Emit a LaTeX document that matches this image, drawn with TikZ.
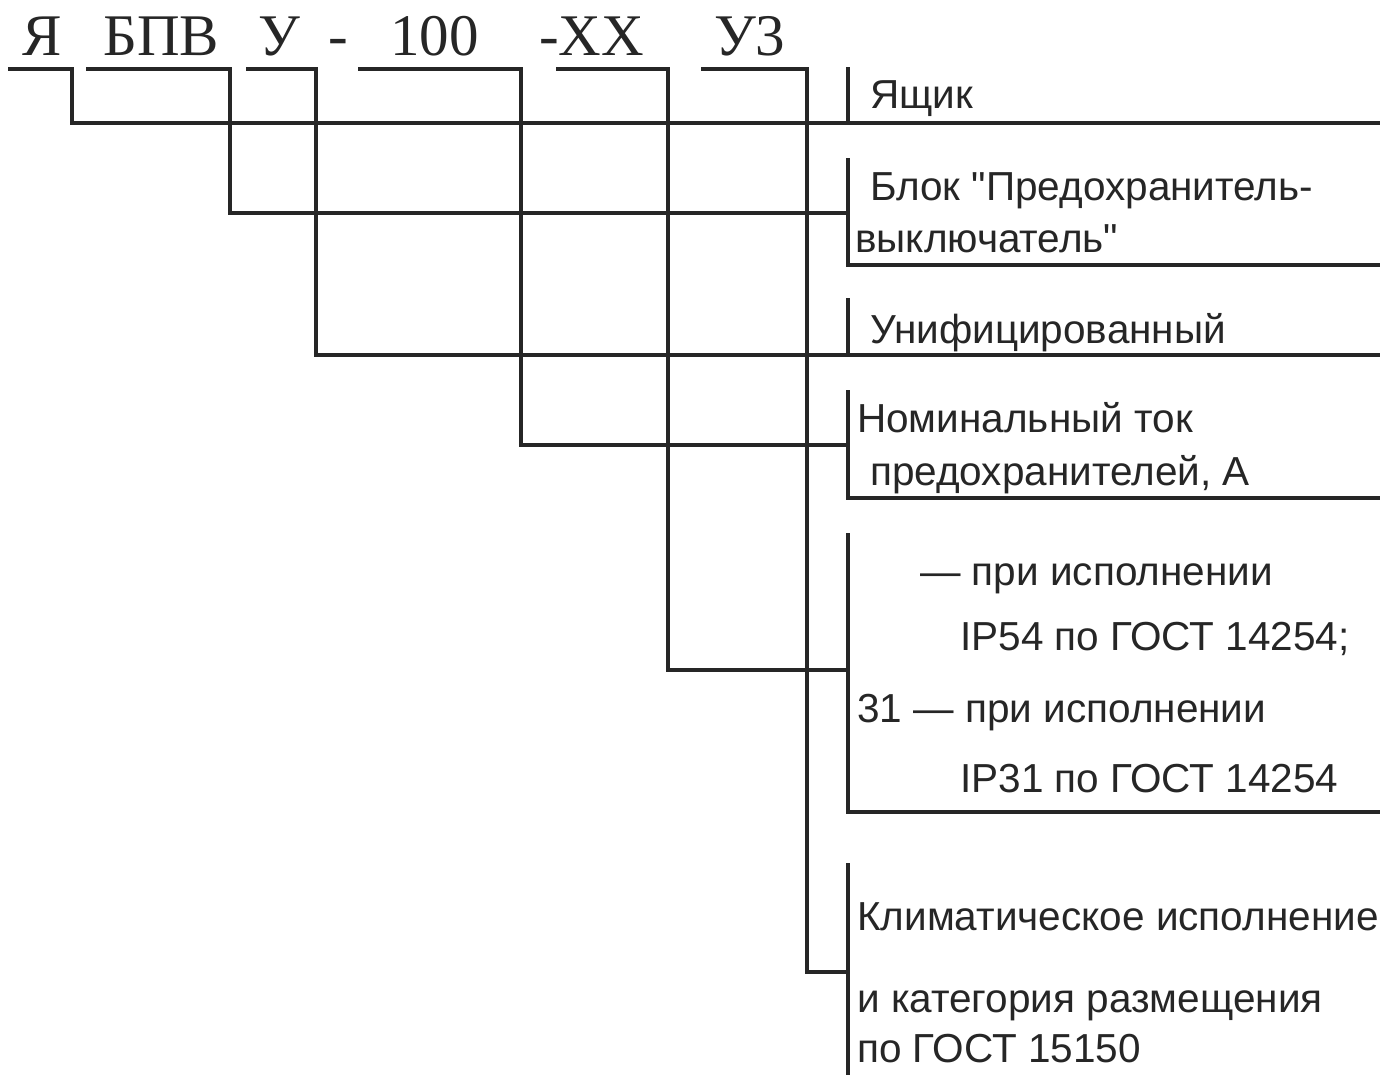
\documentclass[tikz,border=0pt]{standalone}
\usepackage{fontspec}
\setmainfont{Liberation Sans}[Ligatures=TeXOff]
\newfontfamily\codefont{Liberation Serif}
\begin{document}
\begin{tikzpicture}[x=1pt,y=-1pt,
  ln/.style={line width=3.2pt,line cap=rect,black!85},
  lbl/.style={anchor=base west,inner sep=0pt,font=\fontsize{40.5}{46}\selectfont,text=black!85},
  code/.style={anchor=base west,inner sep=0pt,font=\codefont\fontsize{59}{64}\selectfont,text=black!85}]
\useasboundingbox[fill=white] (0,0) rectangle (1380,1074);
% code
\node[code] (cY) at (22,55) {Я};
\node[code] (cB) at (103,55) {БПВ};
\node[code] (cU) at (258,55) {У};
\node[code] (cd1) at (328,55) {-};
\node[code] (cN) at (390,55) {100};
\node[code] (cX) at (539,55) {-XX};
\node[code] (cK) at (714,55) {У3};
% labels
\node[lbl] (l1) at (870,108) {Ящик};
\node[lbl] (l2a) at (870,200) {Блок "Предохранитель-};
\node[lbl] (l2b) at (855,252) {выключатель"};
\node[lbl] (l3) at (870,343) {Унифицированный};
\node[lbl] (l4a) at (857,432) {Номинальный ток};
\node[lbl] (l4b) at (870,485) {предохранителей, А};
\node[lbl] (l5a) at (920,585) {— при исполнении};
\node[lbl] (l5b) at (960,650) {IP54 по ГОСТ 14254;};
\node[lbl] (l5c) at (857,722) {31 — при исполнении};
\node[lbl] (l5d) at (960,792) {IP31 по ГОСТ 14254};
\node[lbl] (l6a) at (857,930) {Климатическое исполнение};
\node[lbl] (l6b) at (857,1012) {и категория размещения};
\node[lbl] (l6c) at (857,1062) {по ГОСТ 15150};
% coordinates
\coordinate (a1) at (10,69);  \coordinate (a2) at (72,69);   \coordinate (ar) at (1380,123);
\coordinate (b1) at (88,69);  \coordinate (b2) at (230,69);  \coordinate (br) at (848,213);
\coordinate (c1) at (248,69); \coordinate (c2) at (316,69);  \coordinate (cr) at (1380,355);
\coordinate (d1) at (360,69); \coordinate (d2) at (521,69);  \coordinate (dr) at (848,445);
\coordinate (e1) at (558,69); \coordinate (e2) at (668,69);  \coordinate (er) at (848,670);
\coordinate (f1) at (703,69); \coordinate (f2) at (807,69);  \coordinate (fr) at (848,972);
% connectors
\draw[ln] (a1) -- (a2) |- (ar);
\draw[ln] (b1) -- (b2) |- (br);
\draw[ln] (c1) -- (c2) |- (cr);
\draw[ln] (d1) -- (d2) |- (dr);
\draw[ln] (e1) -- (e2) |- (er);
\draw[ln] (f1) -- (f2) |- (fr);
% boxes
\coordinate (k1t) at (848,69);  \coordinate (k1b) at (848,123);
\coordinate (k2t) at (848,160); \coordinate (k2b) at (848,265); \coordinate (k2r) at (1380,265);
\coordinate (k3t) at (848,300); \coordinate (k3b) at (848,355);
\coordinate (k4t) at (848,392); \coordinate (k4b) at (848,498); \coordinate (k4r) at (1380,498);
\coordinate (k5t) at (848,535); \coordinate (k5b) at (848,812); \coordinate (k5r) at (1380,812);
\coordinate (k6t) at (848,865); \coordinate (k6b) at (848,1074);
\draw[ln] (k1t) -- (k1b);
\draw[ln] (k2t) -- (k2b) -- (k2r);
\draw[ln] (k3t) -- (k3b);
\draw[ln] (k4t) -- (k4b) -- (k4r);
\draw[ln] (k5t) -- (k5b) -- (k5r);
\draw[ln] (k6t) -- (k6b);
\end{tikzpicture}
\end{document}
